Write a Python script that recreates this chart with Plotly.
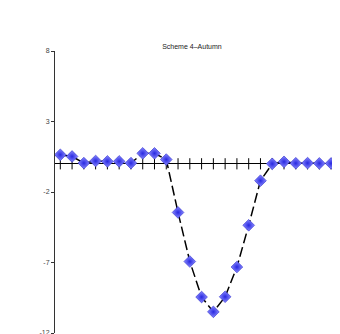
import plotly.graph_objects as go

periods = list(range(1, 25))
values = [0.64, 0.52, 0.05, 0.2, 0.17, 0.17, 0.05, 0.74, 0.74, 0.3,
          -3.45, -6.93, -9.45, -10.5, -9.43, -7.32, -4.36, -1.2,
          0.0, 0.14, 0.04, 0.05, 0.03, 0.03]
y_ticks = [8, 3, -2, -7, -12]
title = "Scheme 4–Autumn"

fig = go.Figure()
# crossing tick marks on the zero axis
fig.add_trace(go.Scatter(
    x=periods, y=[0] * len(periods), mode="markers",
    marker=dict(symbol="line-ns", size=8, line=dict(color="black", width=1)),
    hoverinfo="skip", showlegend=False))
fig.add_trace(go.Scatter(
    x=periods, y=values, mode="lines+markers",
    line=dict(color="black", width=1.5, dash="10px,4px"),
    marker=dict(symbol="diamond", size=9, color="#8a8aff",
                gradient=dict(type="radial", color="#2828e0"),
                line=dict(color="#2a2acc", width=0.6)),
    showlegend=False))

fig.update_layout(
    width=340, height=334,
    margin=dict(l=47, r=11, t=43, b=6),
    paper_bgcolor="white", plot_bgcolor="white",
    title=dict(text=title, x=0.541, xanchor="center", y=0.885, yanchor="middle",
               font=dict(family="Liberation Sans, Arial", size=7, color="#222")),
    xaxis=dict(range=[0.55, 24.5], showgrid=False, showticklabels=False,
               zeroline=False, showline=False, ticks=""),
    yaxis=dict(range=[-12, 8], tickvals=y_ticks, ticktext=[str(v) for v in y_ticks],
               showgrid=False, zeroline=True, zerolinecolor="black", zerolinewidth=1,
               showline=True, linecolor="#333", linewidth=1,
               ticks="outside", ticklen=3, tickcolor="#333",
               tickfont=dict(family="Liberation Sans, Arial", size=7, color="#444")),
)
fig.write_html("out.html")
